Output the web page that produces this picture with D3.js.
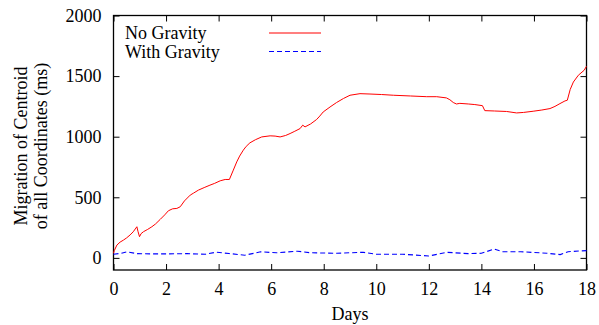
<!DOCTYPE html>
<html><head><meta charset="utf-8">
<script src="https://cdn.jsdelivr.net/npm/d3@7"></script>
<style>
body{margin:0;background:#fff}
svg text{font-family:"Liberation Serif","Times New Roman",Times,"DejaVu Serif",serif;fill:#000}
</style>
</head><body><svg id="chart" width="599" height="325"></svg>
<script>
const noGravityDays = [0,0.03,0.13,0.25,0.38,0.5,0.63,0.75,0.89,0.93,0.99,1.05,1.14,1.3,1.46,1.6,1.78,1.95,2.09,2.25,2.41,2.54,2.7,2.92,3.05,3.23,3.45,3.67,3.85,4.06,4.25,4.41,4.56,4.69,4.8,4.94,5.05,5.19,5.4,5.64,5.96,6.15,6.34,6.55,6.72,6.9,7.1,7.2,7.29,7.5,7.73,7.85,7.98,8.24,8.49,8.75,9.0,9.38,9.76,10.2,10.65,11.3,11.92,12.3,12.67,12.8,12.93,13.05,13.18,13.5,13.75,14.04,14.13,14.5,14.96,15.34,15.6,15.97,16.3,16.61,16.8,16.99,17.18,17.27,17.38,17.5,17.69,17.91,18.0];
const noGravity = [38,60,106,130,147,165,189,215,257,220,175,200,216,235,257,280,318,355,389,405,408,422,470,518,535,559,580,600,615,636,647,647,724,792,840,889,920,949,975,998,1007,1005,998,1010,1026,1045,1067,1095,1081,1105,1142,1170,1204,1245,1282,1315,1342,1355,1352,1348,1342,1336,1330,1330,1320,1305,1282,1270,1275,1270,1265,1256,1215,1212,1208,1196,1200,1210,1220,1232,1250,1273,1295,1301,1390,1451,1507,1548,1581];
const withGravityDays = [0,0.3,0.5,0.9,1.5,2.0,2.8,3.5,3.9,4.4,5.0,5.6,6.2,7.0,7.5,8.5,9.5,10.0,11.0,12.0,12.7,13.5,14.0,14.5,14.8,15.5,16.5,17.0,17.3,18.0];
const withGravity = [30,38,50,35,33,33,35,30,47,36,22,50,42,55,42,38,46,30,30,16,46,35,38,73,51,51,38,27,51,60];
const xTickValues = [0,2,4,6,8,10,12,14,16,18];
const yTickValues = [0,500,1000,1500,2000];
const seriesNames = ["No Gravity","With Gravity"];

const FONT = '"Liberation Serif","Times New Roman",Times,"DejaVu Serif",serif';
const svg = d3.select("#chart");
const L = 113.5, R = 586.5, T = 15.5, B = 270;
const x = d3.scaleLinear().domain([0,18]).range([L,R]);
const y = d3.scaleLinear().domain([-100,2000]).range([B,T]);

function styleAxis(g){
  g.attr("font-family",FONT);
  g.select(".domain").remove();
  g.selectAll("line").attr("stroke","#000").attr("stroke-width",1);
  g.selectAll("text").attr("font-size",18).attr("font-family",FONT).attr("fill","#000");
}
svg.append("g").attr("transform",`translate(0,${B})`)
  .call(d3.axisBottom(x).tickValues(xTickValues).tickSize(-6).tickPadding(12).tickFormat(d3.format("d"))).call(styleAxis);
svg.append("g").attr("transform",`translate(0,${T})`)
  .call(d3.axisTop(x).tickValues(xTickValues).tickSize(-6).tickFormat("")).call(styleAxis);
svg.append("g").attr("transform",`translate(${L},0)`)
  .call(d3.axisLeft(y).tickValues(yTickValues).tickSize(-6).tickPadding(12).tickFormat(d3.format("d"))).call(styleAxis);
svg.append("g").attr("transform",`translate(${R},0)`)
  .call(d3.axisRight(y).tickValues(yTickValues).tickSize(-6).tickFormat("")).call(styleAxis);

svg.append("rect").attr("x",L).attr("y",T).attr("width",R-L).attr("height",B-T)
  .attr("fill","none").attr("stroke","#000").attr("stroke-width",1.3);

const line = d3.line().x(d=>x(d[0])).y(d=>y(d[1]));
svg.append("path").datum(noGravityDays.map((d,i)=>[d,noGravity[i]]))
  .attr("d",line).attr("fill","none").attr("stroke","#ff0000").attr("stroke-width",1);
svg.append("path").datum(withGravityDays.map((d,i)=>[d,withGravity[i]]))
  .attr("d",line).attr("fill","none").attr("stroke","#0000ff").attr("stroke-width",1.1).attr("stroke-dasharray","5,3");

// legend
const leg = [{name:seriesNames[0],color:"#ff0000",dash:null,ty:39,ly:33},
             {name:seriesNames[1],color:"#0000ff",dash:"5,3",ty:57.5,ly:51.5}];
leg.forEach(l=>{
  svg.append("text").attr("x",125).attr("y",l.ty).attr("font-size",18).attr("font-family",FONT).text(l.name);
  svg.append("line").attr("x1",269).attr("x2",321).attr("y1",l.ly).attr("y2",l.ly)
    .attr("stroke",l.color).attr("stroke-width",1.1).attr("stroke-dasharray",l.dash);
});

// axis labels
svg.append("text").attr("x",350).attr("y",320).attr("text-anchor","middle").attr("font-size",18).attr("font-family",FONT).text("Days");
const yl = svg.append("text").attr("transform","translate(0,146) rotate(-90)").attr("text-anchor","middle").attr("font-size",18).attr("font-family",FONT);
yl.append("tspan").attr("x",0).attr("y",27).text("Migration of Centroid");
yl.append("tspan").attr("x",0).attr("y",47).text("of all Coordinates (ms)");
</script>
</body></html>
